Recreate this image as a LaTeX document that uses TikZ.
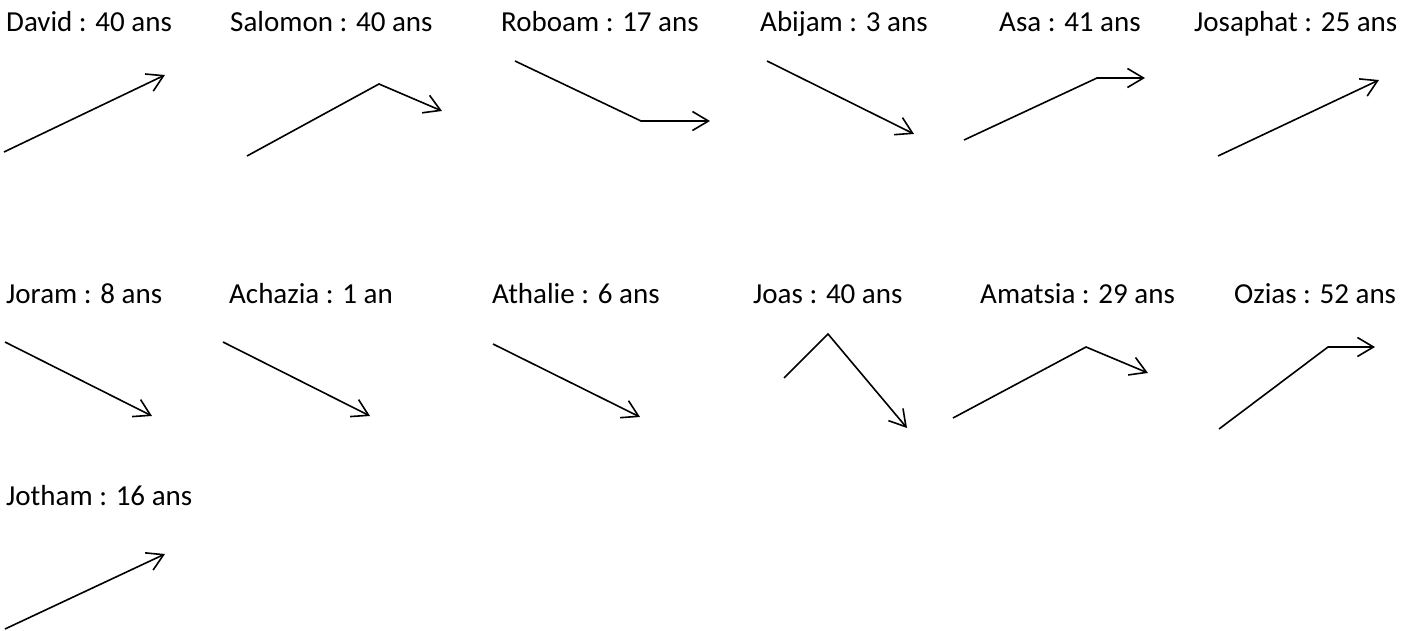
\documentclass[tikz,border=0pt]{standalone}
\usepackage{fontspec}
\setmainfont{Carlito}
\usetikzlibrary{arrows.meta}
\begin{document}
\begin{tikzpicture}[x=1pt,y=-1pt,
  reign/.style={anchor=base west,inner sep=0pt,font=\fontsize{29}{33}\selectfont},
  course/.style={line width=1.6pt,line join=miter,-{Straight Barb[length=16pt,width=19pt,line width=1.6pt]}}]
\useasboundingbox (0,0) rectangle (1416,631);

% ---- first row ----
\node[reign] (david)    at (6,32)    {David : 40 ans};
\node[reign] (salomon)  at (230,32)  {Salomon : 40 ans};
\node[reign] (roboam)   at (501,32)  {Roboam : 17 ans};
\node[reign] (abijam)   at (760,32)  {Abijam : 3 ans};
\node[reign] (asa)      at (999,32)  {Asa : 41 ans};
\node[reign] (josaphat) at (1194,32) {Josaphat : 25 ans};

% ---- second row ----
\node[reign] (joram)    at (6,303)   {Joram : 8 ans};
\node[reign] (achazia)  at (229,303) {Achazia : 1 an};
\node[reign] (athalie)  at (492,303) {Athalie : 6 ans};
\node[reign] (joas)     at (753,303) {Joas : 40 ans};
\node[reign] (amatsia)  at (980,303) {Amatsia : 29 ans};
\node[reign] (ozias)    at (1234,303){Ozias : 52 ans};

% ---- third row ----
\node[reign] (jotham)   at (6,505)   {Jotham : 16 ans};

% ---- trend arrows ----
\coordinate (d1) at (4,152);   \coordinate (d2) at (165,75);
\draw[course] (d1) -- (d2);

\coordinate (s1) at (247,156); \coordinate (s2) at (379,84);  \coordinate (s3) at (442,111);
\draw[course] (s1) -- (s2) -- (s3);

\coordinate (r1) at (515,61);  \coordinate (r2) at (641,121); \coordinate (r3) at (710,121);
\draw[course] (r1) -- (r2) -- (r3);

\coordinate (ab1) at (767,61); \coordinate (ab2) at (914,134);
\draw[course] (ab1) -- (ab2);

\coordinate (as1) at (964,140); \coordinate (as2) at (1097,78); \coordinate (as3) at (1145,78);
\draw[course] (as1) -- (as2) -- (as3);

\coordinate (jo1) at (1218,156); \coordinate (jo2) at (1379,80);
\draw[course] (jo1) -- (jo2);

\coordinate (jr1) at (5,342);  \coordinate (jr2) at (152,416);
\draw[course] (jr1) -- (jr2);

\coordinate (ac1) at (223,342); \coordinate (ac2) at (370,416);
\draw[course] (ac1) -- (ac2);

\coordinate (at1) at (493,344); \coordinate (at2) at (640,417);
\draw[course] (at1) -- (at2);

\coordinate (js1) at (784,378); \coordinate (js2) at (828,334); \coordinate (js3) at (907,428);
\draw[course] (js1) -- (js2) -- (js3);

\coordinate (am1) at (953,418); \coordinate (am2) at (1086,347); \coordinate (am3) at (1148,373);
\draw[course] (am1) -- (am2) -- (am3);

\coordinate (oz1) at (1219,429); \coordinate (oz2) at (1328,347); \coordinate (oz3) at (1375,347);
\draw[course] (oz1) -- (oz2) -- (oz3);

\coordinate (jt1) at (5,629);  \coordinate (jt2) at (165,554);
\draw[course] (jt1) -- (jt2);
\end{tikzpicture}
\end{document}
